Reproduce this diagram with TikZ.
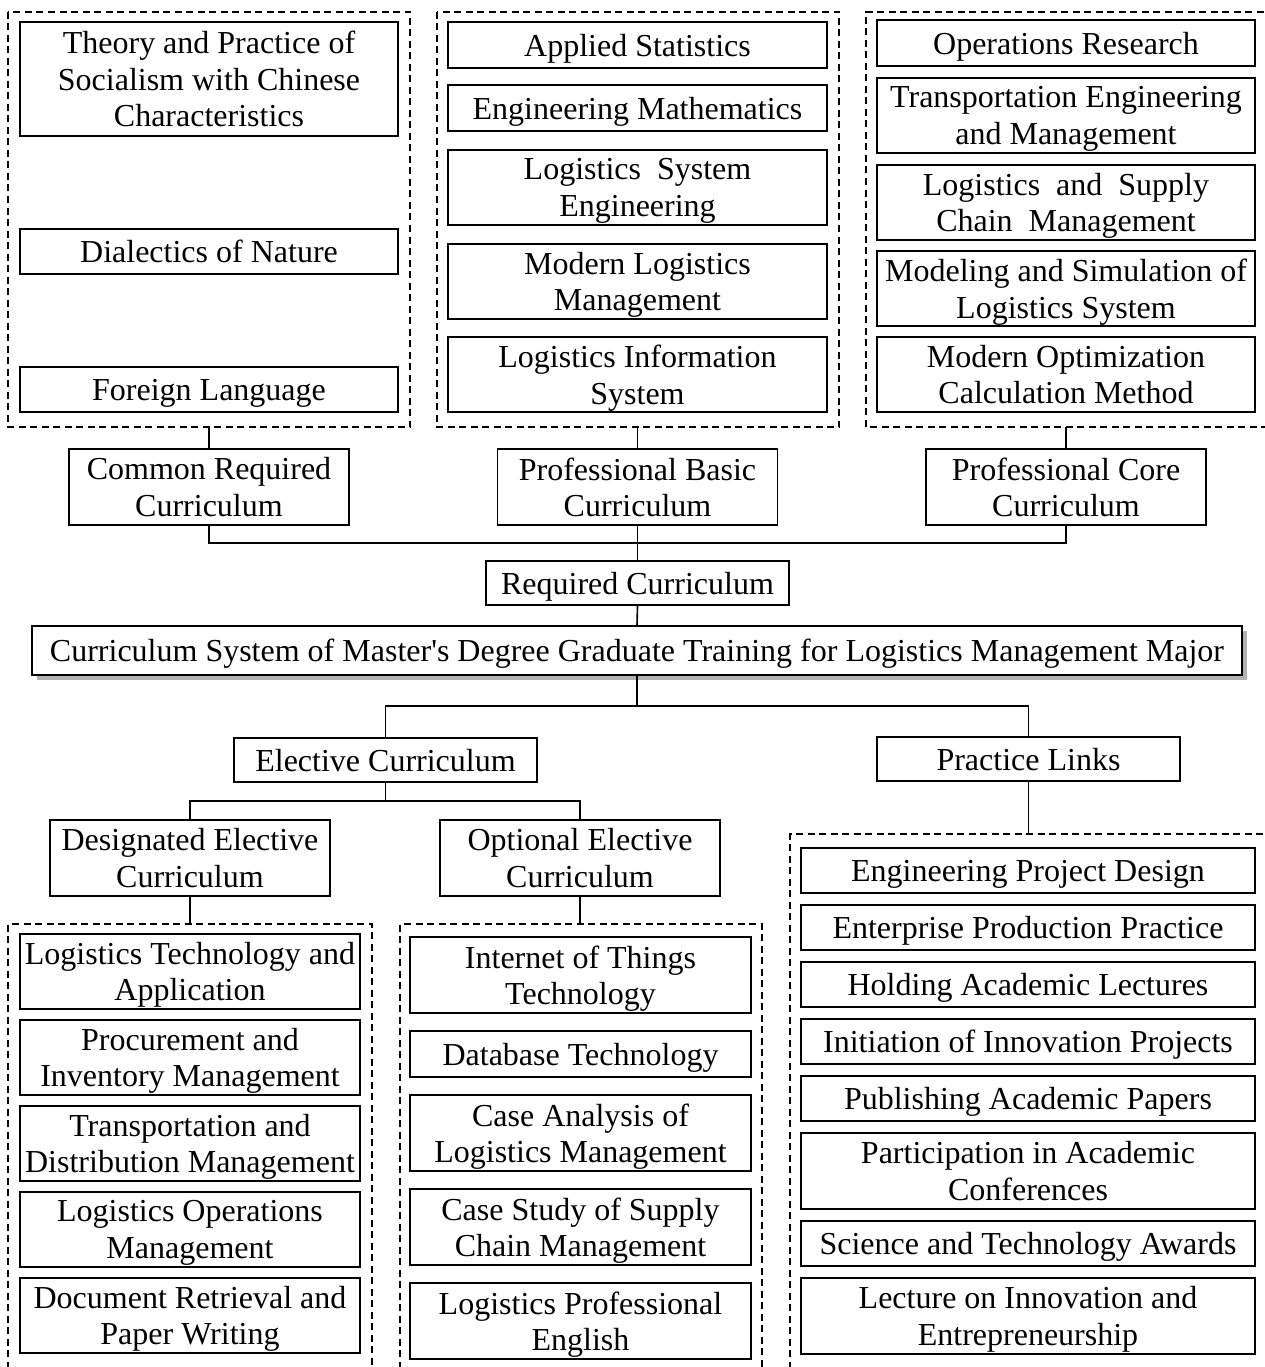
\documentclass[tikz,border=0pt]{standalone}
\usepackage{fontspec}
\setmainfont{Liberation Serif}[Ligatures=TeXOff]
\usetikzlibrary{shadows}
\begin{document}
\begin{tikzpicture}[x=1pt,y=-1pt,
  box/.style={draw, line width=1.5pt, fill=white, inner sep=0pt, align=center,
    text depth=0pt, font=\fontsize{32}{36.5}\selectfont},
  sz/.style 2 args={minimum width=#1pt, minimum height=#2pt},
  grp/.style={draw, line width=1.5pt, dash pattern=on 7pt off 4.5pt},
  conn/.style={draw, line width=1.6pt}]
\useasboundingbox (0,0) rectangle (1264,1367);

% dashed groups
\draw[grp] (8,12) rectangle (410,427);
\draw[grp] (437,12) rectangle (839,427);
\draw[grp] (1275,12) -- (866,12) -- (866,427) -- (1275,427);
\draw[grp] (8,1380) -- (8,924) -- (372,924) -- (372,1380);
\draw[grp] (400,1380) -- (400,924) -- (762,924) -- (762,1380);
\draw[grp] (790,1380) -- (790,834) -- (1275,834);

\coordinate (g1b) at (209,427);
\coordinate (g2b) at (637.5,427);
\coordinate (g3b) at (1066,427);
\coordinate (g4t) at (190,924);
\coordinate (g5t) at (580,924);
\coordinate (g6t) at (1028.5,834);

% top-left
\node[box,sz={378}{114}] (t1) at (209,79) {Theory and Practice of\\Socialism with Chinese\\Characteristics};
\node[box,sz={378}{45}] (t2) at (209,251.5) {Dialectics of Nature};
\node[box,sz={378}{45}] (t3) at (209,389.5) {Foreign Language};
% top-middle
\node[box,sz={379}{46}] (m1) at (637.5,45) {Applied Statistics};
\node[box,sz={379}{46}] (m2) at (637.5,108) {Engineering Mathematics};
\node[box,sz={379}{75}] (m3) at (637.5,187.5) {Logistics\ \ System\\Engineering};
\node[box,sz={379}{75}] (m4) at (637.5,281.5) {Modern Logistics\\Management};
\node[box,sz={379}{75}] (m5) at (637.5,374.5) {Logistics Information\\System};
% top-right
\node[box,sz={378}{46}] (r1) at (1066,43) {Operations Research};
\node[box,sz={378}{75}] (r2) at (1066,115.5) {Transportation Engineering\\and Management};
\node[box,sz={378}{75}] (r3) at (1066,202.5) {Logistics\ \ and\ \ Supply\\Chain\ \ Management};
\node[box,sz={378}{75}] (r4) at (1066,288.5) {Modeling and Simulation of\\Logistics System};
\node[box,sz={378}{75}] (r5) at (1066,374.5) {Modern Optimization\\Calculation Method};

% level 2
\node[box,sz={280}{76}] (crc) at (209,487) {Common Required\\Curriculum};
\node[box,sz={280}{76}] (pbc) at (637.5,487) {Professional Basic\\Curriculum};
\node[box,sz={280}{76}] (pcc) at (1066,487) {Professional Core\\Curriculum};
\node[box,sz={303}{44}] (rc) at (637.5,583) {Required Curriculum};
\node[box,sz={1210}{49},drop shadow={shadow xshift=5pt,shadow yshift=-5pt,fill=black!30,opacity=1}] (main) at (637,650.5) {Curriculum System of Master's Degree Graduate Training for Logistics Management Major};
\node[box,sz={303}{44}] (ec) at (385.5,760) {Elective Curriculum};
\node[box,sz={303}{44}] (pl) at (1028.5,759) {Practice Links};
\node[box,sz={280}{76}] (dec) at (190,858) {Designated Elective\\Curriculum};
\node[box,sz={280}{76}] (oec) at (580,858) {Optional Elective\\Curriculum};

% bottom-left
\node[box,sz={340}{75}] (b1) at (190,971.5) {Logistics Technology and\\Application};
\node[box,sz={340}{75}] (b2) at (190,1057.5) {Procurement and\\Inventory Management};
\node[box,sz={340}{75}] (b3) at (190,1143.5) {Transportation and\\Distribution Management};
\node[box,sz={340}{75}] (b4) at (190,1229.5) {Logistics Operations\\Management};
\node[box,sz={340}{75}] (b5) at (190,1315.5) {Document Retrieval and\\Paper Writing};
% bottom-middle
\node[box,sz={341}{76}] (c1) at (580.5,975) {Internet of Things\\Technology};
\node[box,sz={341}{46}] (c2) at (580.5,1054) {Database Technology};
\node[box,sz={341}{76}] (c3) at (580.5,1133) {Case Analysis of\\Logistics Management};
\node[box,sz={341}{76}] (c4) at (580.5,1227) {Case Study of Supply\\Chain Management};
\node[box,sz={341}{76}] (c5) at (580.5,1321) {Logistics Professional\\English};
% bottom-right
\node[box,sz={454}{45}] (p1) at (1028,870.5) {Engineering Project Design};
\node[box,sz={454}{45}] (p2) at (1028,927.5) {Enterprise Production Practice};
\node[box,sz={454}{45}] (p3) at (1028,984.5) {Holding Academic Lectures};
\node[box,sz={454}{45}] (p4) at (1028,1041.5) {Initiation of Innovation Projects};
\node[box,sz={454}{45}] (p5) at (1028,1098.5) {Publishing Academic Papers};
\node[box,sz={454}{76}] (p6) at (1028,1171) {Participation in Academic\\Conferences};
\node[box,sz={454}{45}] (p7) at (1028,1243.5) {Science and Technology Awards};
\node[box,sz={454}{76}] (p8) at (1028,1316) {Lecture on Innovation and\\Entrepreneurship};

% connectors
\coordinate (bus1) at (637.5,543);
\coordinate (bus2) at (637,706);
\coordinate (bus3) at (385.5,801);
\draw[conn] (g1b) -- (crc.north);
\draw[conn] (g2b) -- (pbc.north);
\draw[conn] (g3b) -- (pcc.north);
\draw[conn] (crc.south) |- (bus1) -| (pcc.south);
\draw[conn] (pbc.south) -- (rc.north);
\draw[conn] (rc.south) -- (main.north);
\draw[conn] (main.south) -- (bus2);
\draw[conn] (ec.north) |- (bus2) -| (pl.north);
\draw[conn] (ec.south) -- (bus3);
\draw[conn] (dec.north) |- (bus3) -| (oec.north);
\draw[conn] (pl.south) -- (g6t);
\draw[conn] (dec.south) -- (g4t);
\draw[conn] (oec.south) -- (g5t);
\end{tikzpicture}
\end{document}
